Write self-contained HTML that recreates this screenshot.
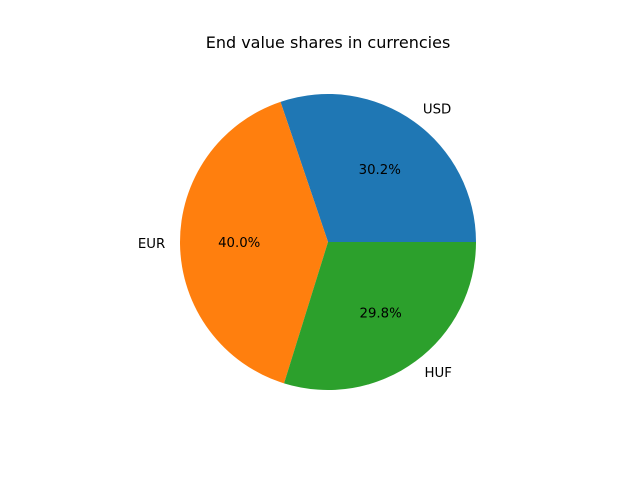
<!DOCTYPE html>
<html>
<head>
<meta charset="utf-8">
<style>
  html, body { margin: 0; padding: 0; background: #fff; }
  svg { display: block; font-family: "DejaVu Sans", "Liberation Sans", sans-serif; }
</style>
</head>
<body>
<svg id="chart" width="640" height="480" viewBox="0 0 640 480">
  <rect width="640" height="480" fill="#fff"></rect>
  <text x="328" y="48" text-anchor="middle" font-size="16" fill="#000">End value shares in currencies</text>
  <g id="slices"></g>
  <g id="labels"></g>
</svg>
<script>
const categories = ["USD", "EUR", "HUF"];
const values = [30.2, 40.0, 29.8];
const colors = ["#1f77b4", "#ff7f0e", "#2ca02c"];

const cx = 328, cy = 242, r = 148;
const ns = "http://www.w3.org/2000/svg";
const gS = document.getElementById("slices");
const gL = document.getElementById("labels");
const total = values.reduce((a, b) => a + b, 0);
function pt(angDeg, rad) {
  const a = angDeg * Math.PI / 180;
  return [cx + rad * Math.cos(a), cy - rad * Math.sin(a)];
}
let start = 0;
values.forEach((v, i) => {
  const sweep = v / total * 360;
  const end = start + sweep;
  const [x1, y1] = pt(start, r);
  const [x2, y2] = pt(end, r);
  const large = sweep > 180 ? 1 : 0;
  const p = document.createElementNS(ns, "path");
  p.setAttribute("d", `M${cx},${cy} L${x1},${y1} A${r},${r} 0 ${large} 0 ${x2},${y2} Z`);
  p.setAttribute("fill", colors[i]);
  
  
  gS.appendChild(p);

  const mid = start + sweep / 2;
  const [lx, ly] = pt(mid, r * 1.1);
  const t = document.createElementNS(ns, "text");
  t.setAttribute("x", lx);
  t.setAttribute("y", ly + 4);
  t.setAttribute("font-size", "13.3");
  t.setAttribute("text-anchor", Math.cos(mid * Math.PI / 180) >= 0 ? "start" : "end");
  t.textContent = categories[i];
  
  
  gL.appendChild(t);

  const [px, py] = pt(mid, r * 0.6);
  const tp = document.createElementNS(ns, "text");
  tp.setAttribute("x", px);
  tp.setAttribute("y", py + 4);
  tp.setAttribute("font-size", "13.3");
  tp.setAttribute("text-anchor", "middle");
  tp.textContent = (v / total * 100).toFixed(1) + "%";
  
  
  gL.appendChild(tp);

  start = end;
});
</script>
</body>
</html>
